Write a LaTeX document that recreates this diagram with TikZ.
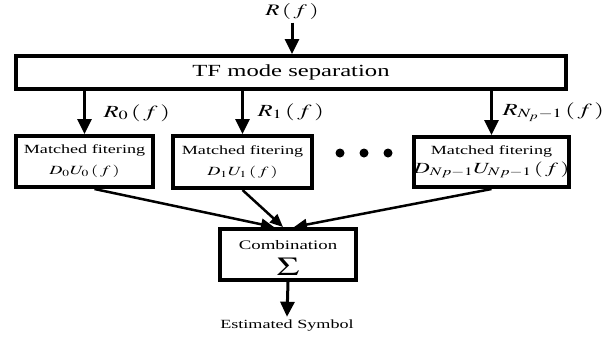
\documentclass[tikz,border=0pt]{standalone}
\usepackage{mathptmx}
\usepackage[no-math]{fontspec}
\setmainfont{Liberation Serif}
\usepackage{graphicx}
\usetikzlibrary{arrows.meta}
\newcommand{\wtxt}[1]{\scalebox{1.45}[1]{#1}}

\begin{document}
\begin{tikzpicture}[x=1pt,y=-1pt,
block/.style={draw,line width=4pt,align=center,inner sep=0pt},
flow/.style={line width=3pt,-{Triangle[length=15pt,width=14pt]}},
merge/.style={line width=2.5pt,-{Triangle[length=13pt,width=11pt]}},
lbl/.style={font=\fontsize{17}{20}\selectfont,anchor=west}]
\useasboundingbox (0,0) rectangle (605,341);
\node[font=\fontsize{16}{18}\selectfont] (rf) at (292,11) {\wtxt{$R\left(\,f\,\right)$}};
\node[block,minimum width=550,minimum height=33,font=\fontsize{17}{20}\selectfont] (tf) at (291,72.5) {\wtxt{TF mode separation}};
\draw[flow] (rf.south) -- (rf.south |- tf.north);
% matched filters
\node[block,minimum width=137,minimum height=51,font=\fontsize{12.5}{21}\selectfont] (mf0) at (84.5,161.5)
  {\wtxt{Matched fitering}\\\wtxt{$D_0U_0\left(\,f\,\right)$}};
\node[block,minimum width=139,minimum height=52,font=\fontsize{12.5}{21}\selectfont] (mf1) at (242.5,162)
  {\wtxt{Matched fitering}\\\wtxt{$D_1U_1\left(\,f\,\right)$}};
\node[block,minimum width=155,minimum height=50,font=\fontsize{12.5}{18}\selectfont] (mf2) at (491.5,162)
  {\wtxt{Matched fitering}\\[1pt]\wtxt{\fontsize{15.5}{18}\selectfont$D_{Np-1}U_{Np-1}\left(\,f\,\right)$}};
\foreach \dx in {340,364,388}
  \fill (\dx,153) circle (4.5pt);
\draw[flow] (mf0.north |- tf.south) -- (mf0.north);
\draw[flow] (mf1.north |- tf.south) -- (mf1.north);
\draw[flow] (mf2.north |- tf.south) -- (mf2.north);
\node[lbl] (r0) at (100,113) {\wtxt{$R_0\left(\,f\,\right)$}};
\node[lbl] (r1) at (254,112) {\wtxt{$R_1\left(\,f\,\right)$}};
\node[lbl] (r2) at (499,112) {\wtxt{$R_{N_p-1}\left(\,f\,\right)$}};
% combining
\node[block,minimum width=136,minimum height=51] (comb) at (288,254.5) {};
\node[font=\fontsize{13}{16}\selectfont,inner sep=0pt] (combtxt) at (288,245) {\wtxt{Combination}};
\node[font=\fontsize{26}{26}\selectfont,inner sep=0pt] (sig) at (288,267) {\wtxt{$\Sigma$}};
\draw[merge] ([xshift=10pt]mf0.south) -- ([xshift=-14pt]comb.north);
\draw[merge] (mf1.south) -- ([xshift=-5pt]comb.north);
\draw[merge] (mf2.south) -- ([xshift=6pt]comb.north);
\node[font=\fontsize{12.5}{15}\selectfont] (est) at (287,326) {\wtxt{Estimated Symbol}};
\draw[flow] (comb.south) -- (est.north);
\end{tikzpicture}
\end{document}
